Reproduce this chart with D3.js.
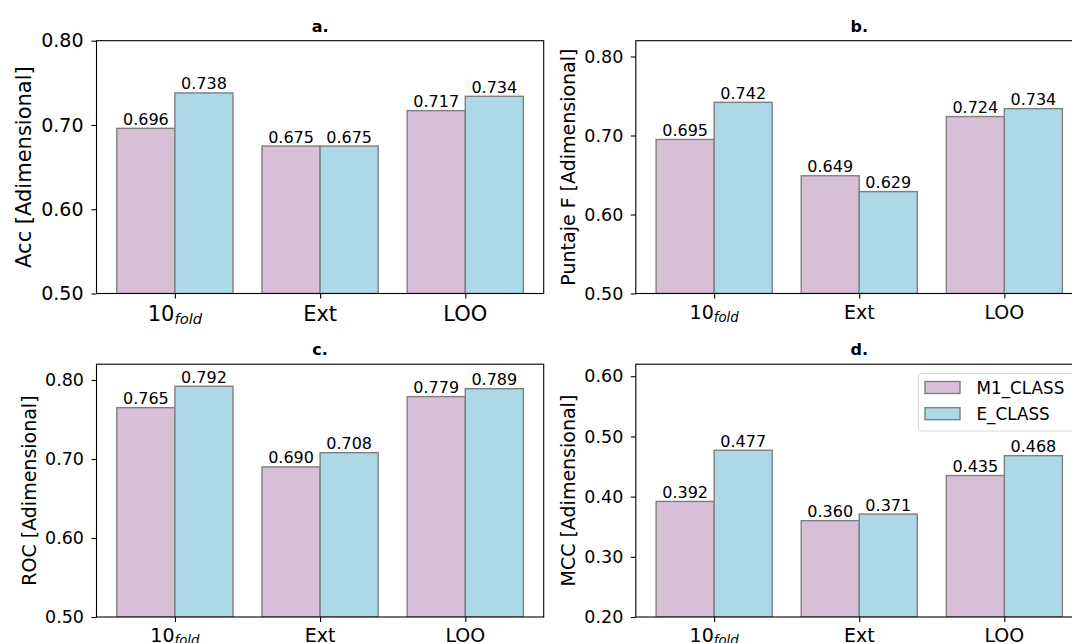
<!DOCTYPE html>
<html><head><meta charset="utf-8">
<script src="https://cdn.jsdelivr.net/npm/d3@7"></script>
<style>
body{margin:0;background:#fff}
svg{display:block}
text{font-family:"DejaVu Sans",sans-serif;fill:#000}
</style>
</head><body>
<svg id="chart" width="1072" height="643"></svg>
<script>
// ---------- data ----------
const categories = ["10", "Ext", "LOO"];
const categorySubscripts = ["fold", "", ""];
const seriesNames = ["M1_CLASS", "E_CLASS"];
const accM1 = [0.696, 0.675, 0.717];
const accE  = [0.738, 0.675, 0.734];
const fM1   = [0.695, 0.649, 0.724];
const fE    = [0.742, 0.629, 0.734];
const rocM1 = [0.765, 0.690, 0.779];
const rocE  = [0.792, 0.708, 0.789];
const mccM1 = [0.392, 0.360, 0.435];
const mccE  = [0.477, 0.371, 0.468];
const titles = ["a.", "b.", "c.", "d."];
const yLabels = ["Acc [Adimensional]", "Puntaje F [Adimensional]", "ROC [Adimensional]", "MCC [Adimensional]"];
const yTicksA = [0.50, 0.60, 0.70, 0.80];
const yTicksB = [0.50, 0.60, 0.70, 0.80];
const yTicksC = [0.50, 0.60, 0.70, 0.80];
const yTicksD = [0.20, 0.30, 0.40, 0.50, 0.60];

// ---------- layout ----------
const colors = ["#d8bfd8", "#add8e6"];
const panels = [
  {m1: accM1, e: accE, ticks: yTicksA, ydom: [0.5, 0.80], L: 96.5, R: 543.7, T: 40.7, B: 293.5,
   tickFs: 19, xFs: 21, labFs: 21, labX: 31, xBase: 321, titleY: 31.5, pad: 8},
  {m1: fM1, e: fE, ticks: yTicksB, ydom: [0.5, 0.82], L: 635.8, R: 1082.7, T: 40.7, B: 293.5,
   tickFs: 17.5, xFs: 19, labFs: 19, labX: 575, xBase: 319, titleY: 31.5, pad: 7.5},
  {m1: rocM1, e: rocE, ticks: yTicksC, ydom: [0.5, 0.82], L: 96.5, R: 543.7, T: 364.2, B: 617,
   tickFs: 17.5, xFs: 19, labFs: 19, labX: 36, xBase: 642, titleY: 354.5, pad: 7.5},
  {m1: mccM1, e: mccE, ticks: yTicksD, ydom: [0.2, 0.62], L: 635.8, R: 1082.7, T: 364.2, B: 617,
   tickFs: 17.5, xFs: 19, labFs: 19, labX: 575, xBase: 642, titleY: 354.5, pad: 7.5, legend: true}
];

const svg = d3.select("#chart");
svg.append("rect").attr("width", 1072).attr("height", 643).attr("fill", "#fff");

panels.forEach((p, pi) => {
  const x = d3.scaleLinear().domain([-0.54, 2.54]).range([p.L, p.R]);
  const y = d3.scaleLinear().domain(p.ydom).range([p.B, p.T]);
  const g = svg.append("g");
  const clipId = "clip" + pi;
  g.append("clipPath").attr("id", clipId).append("rect")
    .attr("x", p.L).attr("y", p.T).attr("width", p.R - p.L).attr("height", p.B - p.T);

  const series = [p.m1, p.e];
  const barW = 0.4;
  const bars = g.append("g").attr("clip-path", `url(#${clipId})`);
  series.forEach((vals, si) => {
    bars.selectAll(null).data(vals).enter().append("rect")
      .attr("x", (d, i) => x(i - barW + si * barW))
      .attr("width", (d, i) => x(i + si * barW) - x(i - barW + si * barW))
      .attr("y", d => y(d))
      .attr("height", d => y(p.ydom[0]) - y(d))
      .attr("fill", colors[si])
      .attr("stroke", "#7f7f7f")
      .attr("stroke-width", 1.4);
  });
  // value labels
  series.forEach((vals, si) => {
    g.selectAll(null).data(vals).enter().append("text")
      .attr("x", (d, i) => x(i - barW / 2 + si * barW))
      .attr("y", d => y(d) - 3.5)
      .attr("text-anchor", "middle")
      .style("font-size", "16px")
      .text(d => d3.format(".3f")(d));
  });

  // frame (spines)
  g.append("rect").attr("x", p.L).attr("y", p.T).attr("width", p.R - p.L).attr("height", p.B - p.T)
    .attr("fill", "none").attr("stroke", "#000").attr("stroke-width", 1.1);

  // y axis
  const yAxis = d3.axisLeft(y).tickValues(p.ticks).tickFormat(d3.format(".2f"))
    .tickSize(5).tickPadding(p.pad);
  const ya = g.append("g").attr("transform", `translate(${p.L},0)`).call(yAxis);
  ya.select(".domain").remove();
  ya.selectAll(".tick line").attr("stroke", "#000").attr("stroke-width", 1.1);
  ya.selectAll(".tick text").style("font-size", p.tickFs + "px")
    .style("font-family", '"DejaVu Sans",sans-serif').attr("fill", "#000");

  // x axis ticks
  const xAxis = d3.axisBottom(x).tickValues([0, 1, 2]).tickSize(5).tickFormat("");
  const xa = g.append("g").attr("transform", `translate(0,${p.B})`).call(xAxis);
  xa.select(".domain").remove();
  xa.selectAll(".tick line").attr("stroke", "#000").attr("stroke-width", 1.1);
  // x tick labels with subscript
  categories.forEach((c, i) => {
    const t = g.append("text").attr("x", x(i)).attr("y", p.xBase)
      .attr("text-anchor", "middle").style("font-size", p.xFs + "px");
    t.append("tspan").text(c);
    if (categorySubscripts[i]) {
      t.append("tspan").attr("dy", p.xFs * 0.15).style("font-size", (p.xFs * 0.7) + "px")
        .style("font-style", "italic").text(categorySubscripts[i]);
    }
  });

  // y label
  g.append("text")
    .attr("transform", `translate(${p.labX},${(p.T + p.B) / 2}) rotate(-90)`)
    .attr("text-anchor", "middle").style("font-size", p.labFs + "px")
    .text(yLabels[pi]);

  // title
  g.append("text").attr("x", (p.L + p.R) / 2).attr("y", p.titleY)
    .attr("text-anchor", "middle").style("font-size", "16px").style("font-weight", "bold")
    .text(titles[pi]);

  // legend
  if (p.legend) {
    const lg = g.append("g");
    lg.append("rect").attr("x", 918.5).attr("y", 373.5).attr("width", 160).attr("height", 57.5)
      .attr("rx", 3).attr("fill", "#fff").attr("fill-opacity", 0.8)
      .attr("stroke", "#d9d9d9").attr("stroke-width", 1);
    seriesNames.forEach((s, si) => {
      const yy = 381.5 + si * 26.2;
      lg.append("rect").attr("x", 925).attr("y", yy).attr("width", 35).attr("height", 12)
        .attr("fill", colors[si]).attr("stroke", "#7f7f7f").attr("stroke-width", 1.4);
      lg.append("text").attr("x", 976.5).attr("y", yy + 12.5)
        .style("font-size", "16.8px").text(s);
    });
  }
});
</script>
</body></html>
